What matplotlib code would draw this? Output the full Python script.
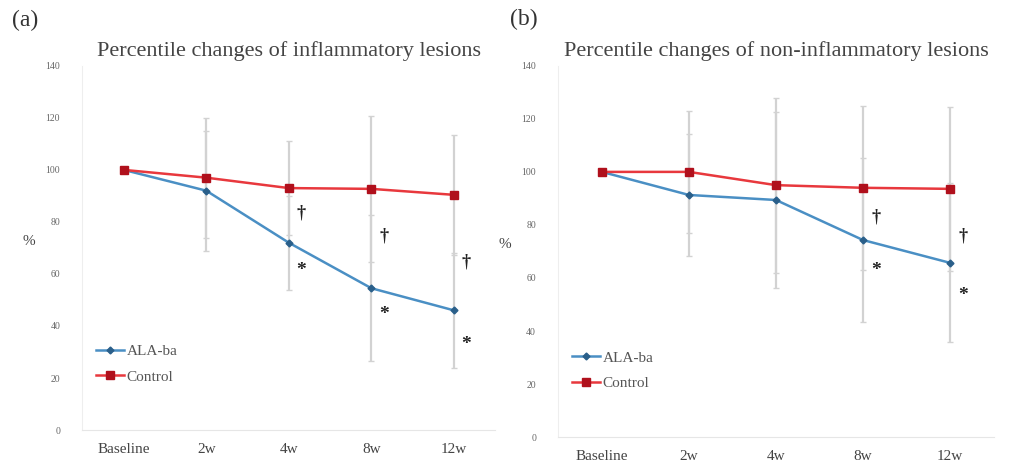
import numpy as np
import matplotlib.pyplot as plt

plt.rcParams['font.family'] = ['Liberation Serif', 'DejaVu Serif']

timepoints = ['Baseline', '2w', '4w', '8w', '12w']

# (a) inflammatory lesions
ala_a = [100, 92, 72, 54.5, 46]
ctrl_a = [100, 97, 93, 92.7, 90.4]
ala_a_err = [0, 23, 18, 28, 22]
ctrl_a_err = [0, 23, 18, 28, 23]
dagger_a = {2: 83.5, 3: 74.5, 4: 64.5}
star_a = {2: 63.5, 3: 46.5, 4: 35}

# (b) non-inflammatory lesions
ala_b = [100, 91.3, 89.4, 74.3, 65.7]
ctrl_b = [100, 100, 95, 94, 93.6]
ala_b_err = [0, 23, 33, 31, 30]
ctrl_b_err = [0, 23, 33, 31, 31]
dagger_b = {3: 83, 4: 76}
star_b = {3: 65, 4: 55.5}

fig = plt.figure(figsize=(10.17, 4.70), dpi=100)
ax1 = fig.add_axes([0.081, 0.085, 0.406, 0.775])
ax2 = fig.add_axes([0.549, 0.070, 0.428, 0.790])

blue = '#4a8fc4'
red = '#e8383d'
grey = '#d2d2d2'


def panel(ax, ala, ctrl, ala_err, ctrl_err, daggers, stars, title, letter, letter_x):
    x = np.arange(len(timepoints))
    ax.errorbar(x, ala, yerr=ala_err, fmt='none', ecolor=grey, elinewidth=1.6, capsize=2, capthick=1, zorder=1)
    ax.errorbar(x, ctrl, yerr=ctrl_err, fmt='none', ecolor=grey, elinewidth=1.6, capsize=2, capthick=1, zorder=1)
    ax.plot(x, ala, color=blue, lw=1.8, marker='D', ms=3.5, mfc='#2a5f8a', mec='#2a5f8a', label='ALA-ba', zorder=3)
    ax.plot(x, ctrl, color=red, lw=1.8, marker='s', ms=6, mfc='#b0101c', mec='#b0101c', label='Control', zorder=3)
    for i, yv in daggers.items():
        ax.text(i + 0.15, yv, '\u2020', fontsize=13, fontweight='bold', ha='center', va='center', color='#222222')
    for i, yv in stars.items():
        ax.text(i + 0.15, yv - 2, '*', fontsize=14, fontweight='bold', ha='center', va='center', color='#222222')
    ax.set_xlim(-0.5, 4.5)
    ax.set_ylim(0, 140)
    ax.set_yticks(range(0, 141, 20))
    ax.set_xticks(x)
    ax.set_xticklabels(timepoints, fontsize=11, color='#444444')
    ax.tick_params(axis='y', labelsize=7, colors='#666666', length=0, pad=16)
    ax.tick_params(axis='x', length=0, pad=9)
    for s in ['top', 'right']:
        ax.spines[s].set_visible(False)
    ax.spines['left'].set_color('#eeeeee')
    ax.spines['bottom'].set_color('#e6e6e6')
    ax.set_title(title, fontsize=16, color='#444444', pad=7)
    ax.set_ylabel('%', fontsize=11, rotation=0, color='#444444', labelpad=12)
    ax.text(letter_x, 1.125, letter, transform=ax.transAxes, fontsize=17, color='#333333', va='center')
    ax.legend(loc='lower left', bbox_to_anchor=(0.0, 0.09), frameon=False, fontsize=11,
              handlelength=1.8, handletextpad=0.2, labelspacing=0.75, labelcolor='#555555')


panel(ax1, ala_a, ctrl_a, ala_a_err, ctrl_a_err, dagger_a, star_a,
      'Percentile changes of inflammatory lesions', '(a)', -0.17)
panel(ax2, ala_b, ctrl_b, ala_b_err, ctrl_b_err, dagger_b, star_b,
      'Percentile changes of non-inflammatory lesions', '(b)', -0.11)

fig.savefig('out.png', dpi=100)
